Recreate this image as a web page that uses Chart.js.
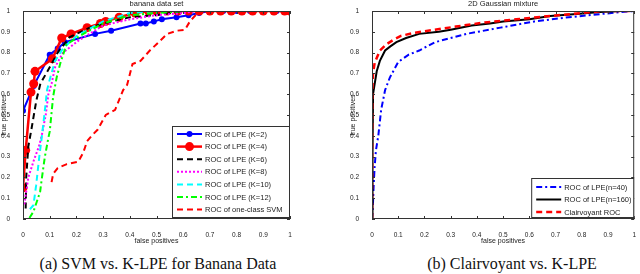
<!DOCTYPE html>
<html>
<head>
<meta charset="utf-8">
<script src="https://cdn.jsdelivr.net/npm/chart.js@4.4.1/dist/chart.umd.min.js"></script>
<style>
  body { margin: 0; background: #fff; width: 640px; height: 274px; position: relative; overflow: hidden; }
  canvas { position: absolute; top: 0; }
  .cap { position: absolute; top: 255px; font: 16px "Liberation Serif", serif; color: #111; white-space: nowrap; transform: translateX(-50%); }
</style>
</head>
<body>
<canvas id="banana" width="300" height="245" style="left:0"></canvas>
<canvas id="gauss" width="291" height="245" style="left:349px"></canvas>
<div class="cap" style="left:158px">(a) SVM vs. K-LPE for Banana Data</div>
<div class="cap" style="left:512px">(b) Clairvoyant vs. K-LPE</div>
<script>
// banana data set (false positive rate / true positive rate)
const k2Fp = [0, 0.04, 0.1, 0.13, 0.157, 0.27, 0.33, 0.44, 0.46, 0.49, 0.52, 0.575, 0.62, 0.66, 0.7, 0.75, 0.8, 0.85, 0.9, 0.95, 1];
const k2Tp = [0.52, 0.64, 0.79, 0.82, 0.85, 0.89, 0.905, 0.94, 0.94, 0.95, 0.96, 0.97, 0.98, 0.99, 1, 1, 1, 1, 1, 1, 1];
const k4Fp = [0, 0.01, 0.03, 0.04, 0.045, 0.11, 0.145, 0.18, 0.24, 0.29, 0.31, 0.36, 0.42, 0.47, 0.5, 0.54, 0.58, 0.62, 0.66, 0.7, 0.74, 0.78, 0.82, 0.86, 0.9, 0.94, 0.98, 1];
const k4Tp = [0.15, 0.33, 0.61, 0.65, 0.71, 0.77, 0.87, 0.89, 0.92, 0.94, 0.95, 0.97, 0.99, 1, 1, 1, 1, 1, 1, 1, 1, 1, 1, 1, 1, 1, 1, 1];
const k6Fp = [0.01, 0.012, 0.02, 0.03, 0.05, 0.065, 0.1, 0.13, 0.175, 0.25, 0.3, 0.4, 0.5, 0.6, 1];
const k6Tp = [0.05, 0.2, 0.35, 0.42, 0.57, 0.65, 0.73, 0.8, 0.875, 0.92, 0.94, 0.97, 0.98, 1, 1];
const k8Fp = [0.005, 0.02, 0.04, 0.06, 0.07, 0.085, 0.095, 0.107, 0.12, 0.15, 0.21, 0.3, 0.4, 0.5, 0.6, 0.65, 1];
const k8Tp = [0.07, 0.2, 0.28, 0.35, 0.4, 0.5, 0.6, 0.65, 0.73, 0.8, 0.86, 0.93, 0.96, 0.98, 0.99, 1, 1];
const k10Fp = [0.026, 0.039, 0.049, 0.061, 0.07, 0.08, 0.09, 0.1, 0.12, 0.15, 0.2, 0.3, 0.4, 0.5, 1];
const k10Tp = [0.047, 0.066, 0.16, 0.3, 0.39, 0.5, 0.62, 0.67, 0.76, 0.82, 0.88, 0.95, 0.99, 1, 1];
const k12Fp = [0.024, 0.039, 0.064, 0.07, 0.082, 0.095, 0.1, 0.113, 0.126, 0.14, 0.163, 0.226, 0.3, 0.4, 0.6, 1];
const k12Tp = [0.005, 0.035, 0.13, 0.19, 0.3, 0.39, 0.42, 0.59, 0.68, 0.75, 0.84, 0.89, 0.94, 0.98, 1, 1];
const svmFp = [0.107, 0.113, 0.13, 0.164, 0.207, 0.226, 0.24, 0.257, 0.28, 0.31, 0.345, 0.375, 0.39, 0.41, 0.44, 0.475, 0.5, 0.54, 0.575, 0.607, 0.625, 0.65, 0.675, 1];
const svmTp = [0.177, 0.217, 0.245, 0.264, 0.275, 0.32, 0.374, 0.4, 0.43, 0.5, 0.525, 0.62, 0.645, 0.745, 0.76, 0.81, 0.84, 0.89, 0.905, 0.91, 0.95, 0.985, 1, 1];

// 2D Gaussian mixture
const n40Fp = [0, 0.003, 0.006, 0.01, 0.015, 0.024, 0.035, 0.05, 0.068, 0.1, 0.14, 0.18, 0.24, 0.36, 0.49, 0.62, 0.75, 0.87, 0.95, 1];
const n40Tp = [0, 0.05, 0.15, 0.25, 0.33, 0.4, 0.526, 0.62, 0.68, 0.755, 0.79, 0.81, 0.85, 0.89, 0.92, 0.95, 0.97, 0.985, 0.995, 1];
const n160Fp = [0, 0.002, 0.004, 0.009, 0.018, 0.03, 0.05, 0.07, 0.093, 0.13, 0.18, 0.255, 0.3, 0.38, 0.45, 0.5, 0.6, 0.68, 0.78, 0.87, 0.95, 1];
const n160Tp = [0, 0.3, 0.6, 0.64, 0.71, 0.76, 0.81, 0.83, 0.85, 0.87, 0.89, 0.9, 0.91, 0.93, 0.94, 0.95, 0.96, 0.976, 0.985, 0.995, 1, 1];
const clairFp = [0, 0.001, 0.004, 0.01, 0.02, 0.03, 0.055, 0.08, 0.11, 0.16, 0.24, 0.32, 0.43, 0.55, 0.68, 0.8, 0.88, 1];
const clairTp = [0, 0.62, 0.7, 0.75, 0.78, 0.81, 0.84, 0.86, 0.88, 0.895, 0.91, 0.925, 0.945, 0.96, 0.976, 0.99, 1, 1];

const font = "'Liberation Sans', Arial, sans-serif";
const pts = (xs, ys) => xs.map((x, i) => ({ x: x, y: ys[i] }));

function line(label, xs, ys, color, width, dash, radius) {
  return {
    label: label,
    data: pts(xs, ys),
    borderColor: color,
    backgroundColor: color,
    borderWidth: width,
    borderDash: dash,
    pointRadius: radius || 0,
    pointBorderWidth: 0,
    tension: 0
  };
}

// box, inner ticks, title and legend like a matlab figure
const matlabLook = {
  id: "matlabLook",
  afterDatasetsDraw(chart, args, opts) {
    const ctx = chart.ctx;
    const a = chart.chartArea;
    ctx.save();
    ctx.strokeStyle = "#333";
    ctx.lineWidth = 1;
    ctx.setLineDash([]);
    ctx.strokeRect(a.left + 0.5, a.top + 0.5, a.right - a.left - 1, a.bottom - a.top - 1);
    const xs = chart.scales.x, ys = chart.scales.y;
    ctx.beginPath();
    xs.ticks.forEach(t => {
      const p = Math.round(xs.getPixelForValue(t.value)) + 0.5;
      ctx.moveTo(p, a.bottom); ctx.lineTo(p, a.bottom - 3);
      ctx.moveTo(p, a.top); ctx.lineTo(p, a.top + 3);
    });
    ys.ticks.forEach(t => {
      const p = Math.round(ys.getPixelForValue(t.value)) + 0.5;
      ctx.moveTo(a.left, p); ctx.lineTo(a.left + 3, p);
      ctx.moveTo(a.right, p); ctx.lineTo(a.right - 3, p);
    });
    ctx.stroke();

    ctx.fillStyle = "#222";
    ctx.font = "7.5px " + font;
    ctx.textAlign = "center";
    ctx.textBaseline = "middle";
    ctx.fillText(opts.title, (a.left + a.right) / 2, 4);

    // legend in lower right corner
    const bx = a.right - opts.boxW, by = a.bottom - opts.boxH - 1;
    ctx.fillStyle = "#fff";
    ctx.fillRect(bx, by, opts.boxW, opts.boxH);
    ctx.strokeStyle = "#333";
    ctx.strokeRect(bx + 0.5, by + 0.5, opts.boxW - 1, opts.boxH - 1);
    chart.data.datasets.forEach((d, i) => {
      const y = by + opts.first + i * opts.step;
      ctx.strokeStyle = d.borderColor;
      ctx.lineWidth = d.borderWidth;
      ctx.setLineDash(d.borderDash || []);
      ctx.beginPath();
      ctx.moveTo(bx + 5, y);
      ctx.lineTo(bx + 5 + opts.sample, y);
      ctx.stroke();
      if (d.pointRadius) {
        ctx.fillStyle = d.borderColor;
        ctx.beginPath();
        ctx.arc(bx + 5 + opts.sample / 2, y, d.pointRadius, 0, Math.PI * 2);
        ctx.fill();
      }
      ctx.fillStyle = "#222";
      ctx.textAlign = "left";
      ctx.fillText(d.label, bx + 8 + opts.sample, y + 0.5);
    });
    ctx.restore();
  }
};

function axes() {
  const tickFont = { family: font, size: 6.5 };
  const labelFont = { family: font, size: 7 };
  const fmt = v => String(Math.round(v * 10) / 10);
  return {
    x: {
      type: "linear", min: 0, max: 1,
      grid: { display: false }, border: { display: false },
      ticks: { stepSize: 0.1, padding: 4, color: "#222", font: tickFont, callback: fmt },
      title: { display: true, text: "false positives", color: "#222", padding: 0, font: labelFont },
      afterFit: s => { s.height = 26; }
    },
    y: {
      type: "linear", min: 0, max: 1,
      grid: { display: false }, border: { display: false },
      ticks: { stepSize: 0.1, padding: 5, color: "#222", font: tickFont, callback: fmt },
      title: { display: true, text: "true positives", color: "#222", padding: 0, font: labelFont },
      afterFit: s => { s.width = 23; }
    }
  };
}

function make(id, datasets, legend, padRight) {
  datasets.forEach((d, i) => { d.order = -i; });
  new Chart(id, {
    type: "line",
    data: { datasets: datasets },
    options: {
      responsive: false,
      animation: false,
      devicePixelRatio: 1,
      layout: { padding: { top: 11, right: padRight, left: 0, bottom: 0 } },
      plugins: { legend: { display: false }, tooltip: { enabled: false }, matlabLook: legend },
      scales: axes()
    },
    plugins: [matlabLook]
  });
}

make("banana", [
  line("ROC of LPE (K=2)", k2Fp, k2Tp, "#0000ff", 2, [], 3),
  line("ROC of LPE (K=4)", k4Fp, k4Tp, "#ff0000", 2.5, [], 4.5),
  line("ROC of LPE (K=6)", k6Fp, k6Tp, "#000000", 2, [6, 4]),
  line("ROC of LPE (K=8)", k8Fp, k8Tp, "#ff00ff", 2, [2, 2]),
  line("ROC of LPE (K=10)", k10Fp, k10Tp, "#00ffff", 2, [6, 4]),
  line("ROC of LPE (K=12)", k12Fp, k12Tp, "#00ff00", 2, [6, 3, 2, 3]),
  line("ROC of one-class SVM", svmFp, svmTp, "#ff0000", 2, [6, 4])
], { title: "banana data set", boxW: 118, boxH: 92, first: 8, step: 12.6, sample: 25 }, 10);

make("gauss", [
  line("ROC of LPE(n=40)", n40Fp, n40Tp, "#0000ff", 2, [6, 3, 2, 3]),
  line("ROC of LPE(n=160)", n160Fp, n160Tp, "#000000", 2),
  line("Clairvoyant ROC", clairFp, clairTp, "#ff0000", 2.5, [6, 4])
], { title: "2D Gaussian mixture", boxW: 103, boxH: 40, first: 9, step: 12.5, sample: 25 }, 2);
</script>
</body>
</html>
